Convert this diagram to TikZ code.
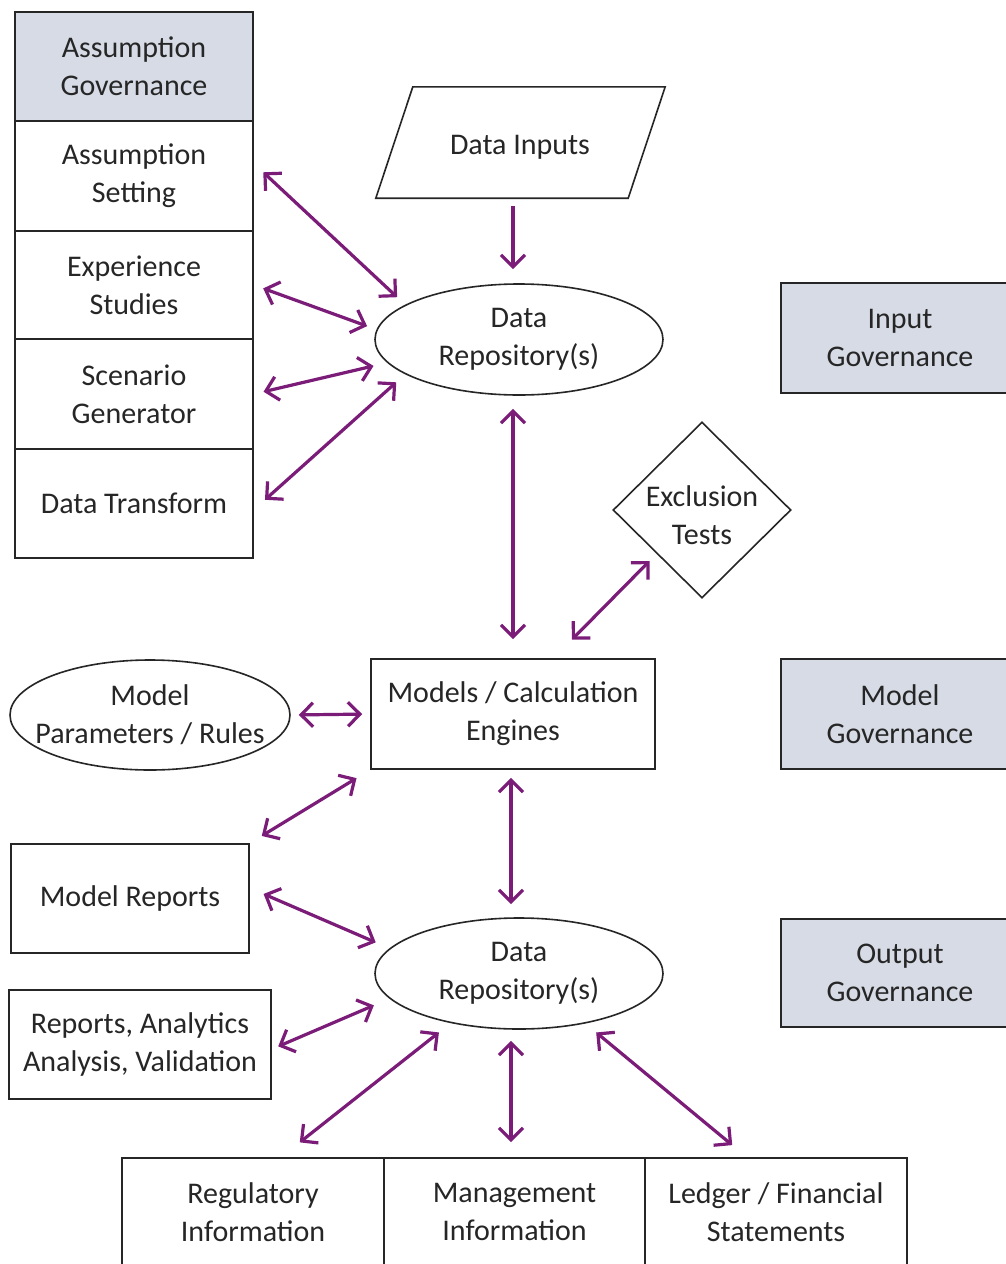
\documentclass[tikz,border=0pt]{standalone}
\usepackage{fontspec}
\setmainfont{Carlito}
\usetikzlibrary{shapes.geometric,arrows.meta}
\definecolor{arrowc}{RGB}{122,28,120}
\definecolor{govfill}{RGB}{214,219,229}
\definecolor{ink}{RGB}{38,38,38}
\begin{document}
\begin{tikzpicture}[x=1pt,y=-1pt,
  every node/.style={font=\fontsize{30}{38}\selectfont, text=ink, align=center},
  box/.style={draw=ink, line width=1.6pt, rectangle, minimum width=238pt, minimum height=109pt, inner sep=0pt},
  gov/.style={box, fill=govfill},
  oval/.style={draw=ink, line width=1.6pt, ellipse, inner sep=-25pt, minimum width=288pt, minimum height=111pt},
  outline/.style={draw=ink, line width=1.6pt, line join=miter},
  barb/.tip={Straight Barb[length=12pt,width=24pt]},
  flow/.style={draw=arrowc, line width=3.2pt, -barb},
  link/.style={draw=arrowc, line width=3.2pt, barb-barb},
]
\fill[white] (0,0) rectangle (1006,1264);
\useasboundingbox (0,0) rectangle (1006,1264);
\clip (0,0) rectangle (1006,1264);

% assumption column
\node[gov] (agov) at (134,66.5) {Assumption\\Governance};
\node[box, minimum height=110pt] (aset) at (134,176) {Assumption\\Setting};
\node[box, minimum height=108pt] (exps) at (134,285) {Experience\\Studies};
\node[box, minimum height=110pt] (scen) at (134,394) {Scenario\\Generator};
\node[box] (xfrm) at (134,503.5) {Data Transform};

% inputs (parallelogram outline drawn from the node's corners) and first repository
\node[minimum width=289pt, minimum height=111pt, inner sep=0pt] (datain) at (520.5,142.5) {};
\draw[outline] ([xshift=37pt]datain.north west) -- (datain.north east)
  -- ([xshift=-37pt]datain.south east) -- (datain.south west) -- cycle;
\node (datain-label) at (520,147) {Data Inputs};
\node[oval] (drtop) at (519,339.5) {Data\\Repository(s)};
\node[gov, minimum height=110pt] (igov) at (900,338) {Input\\Governance};

% tests and models
\node[draw=ink, line width=1.6pt, diamond, inner sep=0pt, minimum width=178pt, minimum height=176pt]
      (excl) at (702,510) {};
\node (excl-label) at (702,515) {Exclusion\\Tests};
\node[box, minimum width=284pt, minimum height=110pt] (models) at (513,714) {Models / Calculation\\Engines};
\node[gov, minimum height=110pt] (mgov) at (900,714) {Model\\Governance};
\node[oval, minimum width=280pt, minimum height=110pt] (params) at (150,715) {Model\\Parameters / Rules};

% outputs
\node[box, minimum height=109pt] (mrep) at (130,898.5) {Model Reports};
\node[oval] (drbot) at (519,973.5) {Data\\Repository(s)};
\node[gov, minimum height=108pt] (ogov) at (900,973) {Output\\Governance};
\node[box, minimum width=262pt] (rep) at (140,1044.5) {Reports, Analytics\\Analysis, Validation};
\node[box, minimum width=262pt, minimum height=108pt] (reg) at (253,1212) {Regulatory\\Information};
\node[box, minimum width=261pt, minimum height=108pt] (mgmt) at (514.5,1212) {Management\\Information};
\node[box, minimum width=262pt, minimum height=108pt] (led) at (776,1212) {Ledger / Financial\\Statements};

% connectors
\draw[link, shorten <=13pt, shorten >=11pt] (aset.6) -- (drtop.163);
\draw[link, shorten <=10pt, shorten >=10pt] (exps.east) -- (drtop.176);
\draw[link, shorten <=10pt, shorten >=14pt] (scen.east) -- (drtop.190);
\draw[link, shorten <=15pt, shorten >=12pt] (xfrm.-3) -- (drtop.197);
\draw[flow, shorten <=8pt, shorten >=14pt] ([xshift=-7.5pt]datain.south) -- ([xshift=-6pt]drtop.north);
\draw[link, shorten <=13pt, shorten >=19pt] ([xshift=-6pt]drtop.south) -- (models.north);
\draw[link, shorten <=10pt, shorten >=26pt] (excl.224) -- (models.54);
\draw[link, shorten <=8pt, shorten >=8pt] (params.east) -- (models.west);
\draw[link, shorten <=16pt, shorten >=14pt] (models.south west) -- (mrep.north east);
\draw[link, shorten <=15pt, shorten >=15pt] (mrep.5) -- (drbot.169);
\draw[link, shorten <=8pt, shorten >=13pt] ([xshift=-2pt]models.south) -- ([xshift=-8pt]drbot.north);
\draw[link, shorten <=7pt, shorten >=17pt] (rep.-2) -- (drbot.191);
\draw[link, shorten <=15pt, shorten >=24pt] (drbot.216) -- (reg.63);
\draw[link, shorten <=11pt, shorten >=15pt] ([xshift=-8pt]drbot.south) -- ([xshift=-3.5pt]mgmt.north);
\draw[link, shorten <=14pt, shorten >=19pt] (drbot.-37) -- (led.118);
\end{tikzpicture}
\end{document}
